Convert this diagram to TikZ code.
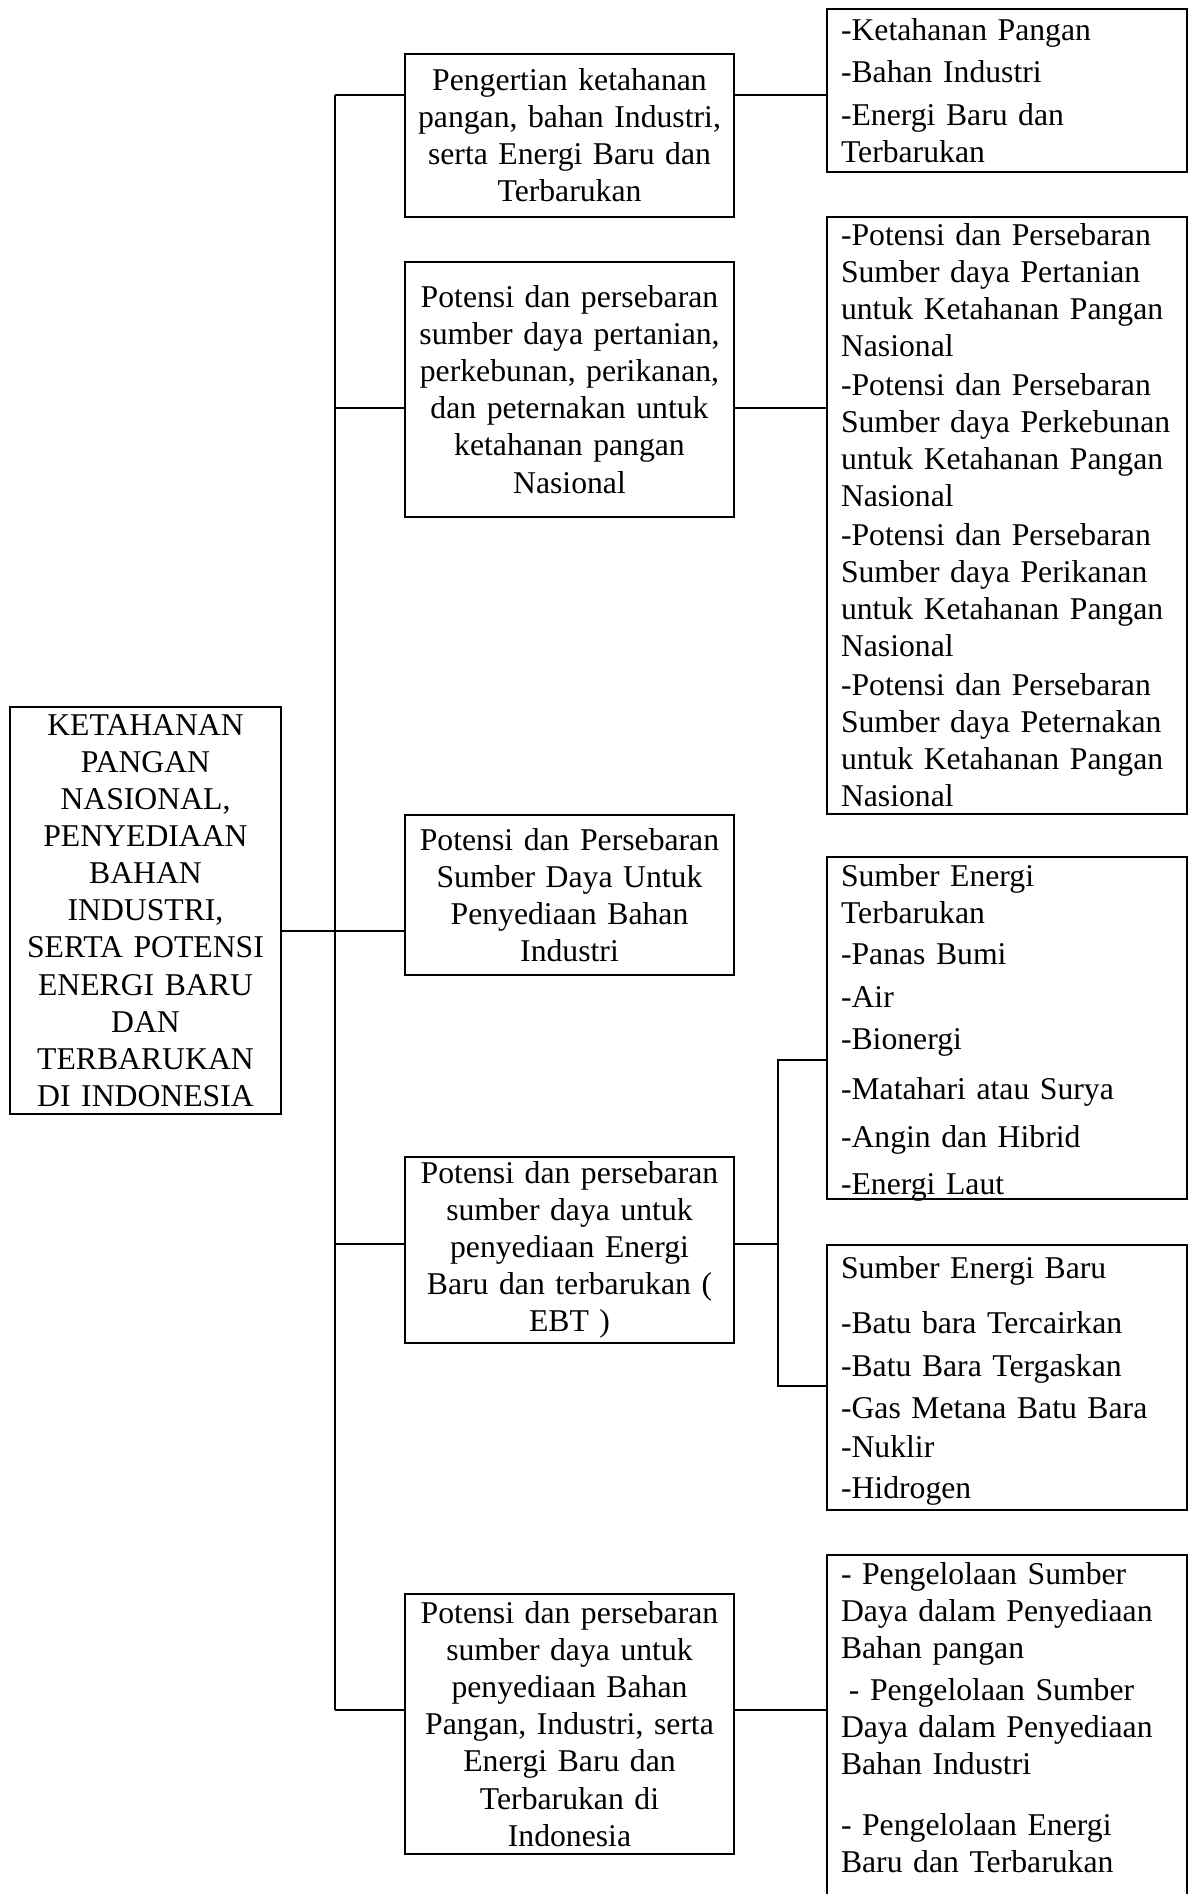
\documentclass[tikz,border=0pt]{standalone}
\usepackage{fontspec}
\setmainfont{Liberation Serif}

\begin{document}
\begin{tikzpicture}[x=0.5pt, y=-0.5pt,
    font=\fontsize{15.85}{18.55}\selectfont,
    topic/.style={draw, line width=1.45pt, outer sep=0pt, anchor=north west, align=center,
      text width=160pt, inner xsep=2.25pt, inner ysep=0pt, minimum width=164.5pt},
    detail/.style={draw, line width=1.15pt, outer sep=0pt, anchor=north west, align=left,
      text width=166pt, inner xsep=7pt, inner ysep=0pt, minimum width=180pt},
    link/.style={line width=0.9pt}]
    \useasboundingbox (0,0) rectangle (1190,1894);

    % Main topic
    \node[topic, text width=130pt, minimum width=135.5pt, minimum height=203.5pt] (main) at (10,707)
        {KETAHANAN\\ PANGAN\\ NASIONAL,\\ PENYEDIAAN\\ BAHAN\\ INDUSTRI,\\ SERTA POTENSI\\
         ENERGI BARU\\ DAN\\ TERBARUKAN\\ DI INDONESIA};

    % Sub topics
    \node[topic, minimum height=81.5pt] (b1) at (405,54)
        {Pengertian ketahanan\\ pangan, bahan Industri,\\ serta Energi Baru dan\\ Terbarukan};
    \node[topic, minimum height=127.5pt] (b2) at (405,262)
        {Potensi dan persebaran\\ sumber daya pertanian,\\ perkebunan, perikanan,\\ dan peternakan untuk\\
         ketahanan pangan\\ Nasional};
    \node[topic, minimum height=80pt] (b3) at (405,815)
        {Potensi dan Persebaran\\ Sumber Daya Untuk\\ Penyediaan Bahan\\ Industri};
    \node[topic, minimum height=93pt] (b4) at (405,1157)
        {Potensi dan persebaran\\ sumber daya untuk\\ penyediaan Energi\\ Baru dan terbarukan (\\ EBT )};
    \node[topic, minimum height=130pt] (b5) at (405,1594)
        {Potensi dan persebaran\\ sumber daya untuk\\ penyediaan Bahan\\ Pangan, Industri, serta\\
         Energi Baru dan\\ Terbarukan di\\ Indonesia};

    % Details
    \node[detail, minimum height=81.5pt] (r1) at (827,9)
        {-Ketahanan Pangan\\[2.6pt] -Bahan Industri\\[2.6pt] -Energi Baru dan\\ Terbarukan};
    \node[detail, minimum height=298.5pt] (r2) at (827,217)
        {-Potensi dan Persebaran\\ Sumber daya Pertanian\\ untuk Ketahanan Pangan\\ Nasional\\[0.8pt]
         -Potensi dan Persebaran\\ Sumber daya Perkebunan\\ untuk Ketahanan Pangan\\ Nasional\\[0.8pt]
         -Potensi dan Persebaran\\ Sumber daya Perikanan\\ untuk Ketahanan Pangan\\ Nasional\\[0.8pt]
         -Potensi dan Persebaran\\ Sumber daya Peternakan\\ untuk Ketahanan Pangan\\ Nasional};
    \node[detail, inner ysep=3.85pt, text height=11pt, text depth=152.3pt] (r3) at (827,857)
        {Sumber Energi\\ Terbarukan\\[2pt] -Panas Bumi\\[2.6pt] -Air\\[2.5pt] -Bionergi\\[6.4pt]
         -Matahari atau Surya\\[5.6pt] -Angin dan Hibrid\\[5.1pt] -Energi Laut};
    \node[detail, inner ysep=5.5pt, text height=11pt, text depth=110.5pt] (r4) at (827,1245)
        {Sumber Energi Baru\\[9.4pt] -Batu bara Tercairkan\\[2.5pt] -Batu Bara Tergaskan\\[2.6pt]
         -Gas Metana Batu Bara\\[1pt] -Nuklir\\[2pt] -Hidrogen};
    \node[detail, inner ysep=3.85pt, text height=11pt, text depth=200pt] (r5) at (827,1555)
        {- Pengelolaan Sumber\\ Daya dalam Penyediaan\\ Bahan pangan\\[2pt]
         \hspace*{0.25em}- Pengelolaan Sumber\\ Daya dalam Penyediaan\\ Bahan Industri\\[12pt]
         - Pengelolaan Energi\\ Baru dan Terbarukan};

    % Trunk and branches
    \coordinate (t1) at (335,95);
    \coordinate (t2) at (335,408);
    \coordinate (t3) at (335,931);
    \coordinate (t4) at (335,1244);
    \coordinate (t5) at (335,1710);
    \draw[link] (t1) -- (t5);
    \draw[link] (t3 -| main.east) -- (t3 -| b3.west);
    \foreach \b/\t in {b1/t1, b2/t2, b4/t4, b5/t5}
        \draw[link] (\t) -- (\t -| \b.west);

    % Links to details
    \draw[link] (t1 -| b1.east) -- (t1 -| r1.west);
    \draw[link] (t2 -| b2.east) -- (t2 -| r2.west);
    \draw[link] (t5 -| b5.east) -- (t5 -| r5.west);

    % Fork to energy boxes
    \coordinate (fa) at (778,1060);
    \coordinate (fb) at (778,1386);
    \draw[link] (t4 -| b4.east) -- (t4 -| fa);
    \draw[link] (fa -| r3.west) -- (fa) -- (fb) -- (fb -| r4.west);
\end{tikzpicture}
\end{document}
